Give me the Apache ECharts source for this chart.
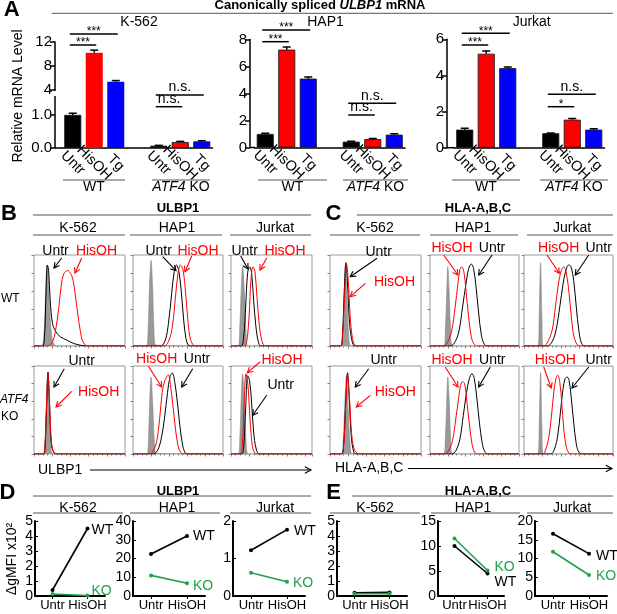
<!DOCTYPE html>
<html><head><meta charset="utf-8">
<script src="https://cdn.jsdelivr.net/npm/echarts@6/dist/echarts.min.js"></script>
<style>html,body{margin:0;padding:0;background:#fff}#c{width:617px;height:614px}</style>
</head><body><div id="c"></div>
<script>
// ---------- Panel A data ----------
const catsA = ['Untr','HisOH','Tg','','Untr','HisOH','Tg'];
const k562Vals   = [1.0, 10.2, 5.4, null, 0.07, 0.18, 0.20];
const k562Err    = [0.05, 0.45, 0.2, null, 0.01, 0.02, 0.02];
const hap1Vals   = [1.0, 7.25, 5.1, null, 0.43, 0.62, 0.95];
const hap1Err    = [0.06, 0.2, 0.12, null, 0.03, 0.04, 0.06];
const jurkatVals = [1.0, 5.2, 4.4, null, 0.8, 1.55, 1.0];
const jurkatErr  = [0.08, 0.15, 0.07, null, 0.02, 0.07, 0.05];
const k562UpperTicks = [4, 8, 12];
const k562LowerTicks = [0, 1];

// ---------- Panels B/C histogram data: [channel %, % of max] ----------
const B_WT_K562 = [
 [[8,0],[10.5,6.6],[12.2,43],[13.3,76],[14.3,89],[15.7,76],[17.5,36],[19.6,10],[22,2],[25.5,0]],
 [[9.1,0],[11.5,10],[13.3,61.5],[14.7,89],[16.1,83],[17.8,50],[20.3,25],[23.8,16],[29,10],[36,6.6],[43,3],[51.7,0.7],[58.7,0]],
 [[15,0],[20.3,4.8],[23.8,17.6],[27.3,43],[30.1,68],[32.5,79],[35,82],[37.1,83],[39.2,81],[41.3,77.7],[43.4,70],[45.5,55],[48.3,34],[51,15.8],[53.8,4.8],[58.7,0]]];
const B_WT_HAP1 = [
 [[14.8,0],[16.9,21],[18.3,65],[20.1,94],[21.8,65],[23.2,21],[25.4,1]],
 [[30.6,0],[35.9,6.6],[39.4,25],[43,58],[45.8,82],[48.2,89],[50.7,83.5],[53.5,61.5],[56.3,28.6],[58.8,8.4],[61.3,1],[64,0]],
 [[34.2,0],[39.4,4.8],[43.7,21],[47.2,54],[50,80],[52.8,89],[55.6,83.5],[58.5,58],[61.3,25],[64.1,6.6],[67.6,0.7],[71.1,0]]];
const B_WT_Jurkat = [
 [[7.9,0],[9.6,25],[11.1,65],[12.5,87],[14.3,61.5],[16.1,14],[17.9,0]],
 [[10.7,0],[13.6,10],[15.7,43],[17.9,80.6],[20,87],[22.1,80.6],[24.3,50],[26.8,21],[29.3,4.8],[32.1,0]],
 [[14.3,0],[17.1,6.6],[19.6,36],[21.4,72.5],[23.6,87],[25.7,82],[27.9,54],[30.4,23],[32.9,6.6],[35.7,0.7],[39.3,0]]];
const B_KO_K562 = [
 [[9.8,0],[11.5,5.7],[13.3,47.5],[15,91],[16.8,51],[18.5,9.5],[21,0]],
 [[10.5,0],[12.2,9.5],[14,59],[15.4,93],[17.1,55],[18.9,13],[22,1],[25.5,0]],
 [[9.8,0],[11.9,7.6],[13.6,51],[15.4,91],[17.1,59],[19.2,13],[22,2],[27,0]]];
const B_KO_HAP1 = [
 [[15.5,0],[17.3,21],[18.7,63],[20.1,87.5],[21.8,59],[23.6,17],[26.1,0.8]],
 [[21.8,0],[27.1,3.8],[31.3,17],[34.9,40],[38.4,70],[41.2,88],[43.7,92],[46.5,81],[49.3,59],[52.1,32],[54.9,11.4],[57.7,1.9],[61.3,0]],
 [[19,0],[22.5,3.8],[26.1,13],[29.6,40],[32.4,70],[35.2,83],[37.7,88],[39.4,90],[41.5,79],[44.4,55],[47.2,28.5],[50,9.5],[52.8,1.9],[56.3,0]]];
const B_KO_Jurkat = [
 [[7.9,0],[9.6,21],[11.1,66.5],[12.5,91],[14.3,63],[16.1,17],[18.6,0]],
 [[11.4,0],[13.6,7.6],[15.7,51],[17.9,89],[20,83],[22.1,59],[24.3,25],[27.1,5.7],[30.7,0]],
 [[10,0],[12.1,9.5],[13.9,51],[16.1,91],[18.2,78],[20.4,40],[22.9,9.5],[25.7,0.8],[28.6,0]]];
const C_WT_K562 = [
 [[10.9,0],[13.5,10],[15.3,50.5],[17.1,89],[18.9,50.5],[20.7,10],[23.6,0]],
 [[11.6,0],[13.8,14],[15.6,58],[17.5,91.6],[19.3,69],[21.5,25],[24.4,4.8],[27.3,0]],
 [[11.6,0],[13.8,12],[16,54],[18.2,90],[20,72.5],[22.2,32],[24.7,8.4],[28,0.7],[32.7,0]]];
const C_WT_HAP1 = [
 [[15.5,0],[17.4,21],[18.9,61.5],[20,87],[21.5,61.5],[23,21],[25.3,0]],
 [[22.6,0],[28.3,4.8],[32.8,17.6],[36.6,43],[40.4,68],[43.4,85],[46.4,90],[49,85],[51.7,65],[54.7,36],[57.7,12],[60.8,2.2],[64.2,0]],
 [[15.1,0],[20,4.8],[24.5,17.6],[28.3,43],[31.3,68],[33.6,84],[35.8,87],[38.1,81.3],[40.4,61.5],[43.4,32],[46.4,10],[49.4,2.2],[53.2,0]]];
const C_WT_Jurkat = [
 [[15,0],[16.4,32],[17.9,91.6],[19.3,32],[20.7,0]],
 [[25,0],[30.4,4.8],[34.6,17.6],[38.6,43],[42.1,68],[45,82.4],[48.2,89],[50.7,87],[53.6,72],[56.4,43],[59.3,15.8],[62.1,3],[65.7,0]],
 [[21.4,0],[25.7,4.8],[30.4,17.6],[33.9,43],[37.1,68],[40,82.4],[42.9,87],[45.7,80],[48.6,58],[51.4,28.6],[54.3,8.4],[57.9,0.7],[60.7,0]]];
const C_KO_K562 = [
 [[12,0],[14.2,9.5],[16,51],[18.2,89],[20,51],[22.2,9.5],[25,0]],
 [[12.7,0],[14.9,9.5],[17.1,55],[19.3,92.4],[21.1,63],[23.3,21],[26.2,1.9],[29.5,0]],
 [[12.7,0],[14.9,7.6],[17.1,51],[19.3,90],[21.5,63],[23.6,25],[26.5,5.7],[30.2,0.8],[34.5,0]]];
const C_KO_HAP1 = [
 [[15.5,0],[17.4,23],[18.9,63],[20,87.5],[21.5,63],[23,23],[25.3,0]],
 [[24.5,0],[29.1,3.8],[33.6,17],[37.4,43.7],[41.1,70],[44.2,85.6],[47.2,91.3],[49.8,85.6],[52.5,64.6],[55.5,36],[58.5,13.3],[61.5,2.7],[65.3,0]],
 [[16.2,0],[20.8,3.8],[25.3,15.2],[29,40],[32.1,62.7],[34.3,77.9],[36.6,82.5],[38.9,79.8],[41.1,62.7],[44.2,34.2],[47.2,11.4],[50.2,1.9],[54,0]]];
const C_KO_Jurkat = [
 [[15,0],[16.4,32],[17.9,92.4],[19.3,32],[20.7,0]],
 [[28.6,0],[32.9,5.7],[36.4,21],[39.3,47.5],[42.1,74],[44.3,85.5],[46.4,87.5],[48.6,83.7],[50.7,66.5],[53.6,36],[56.4,11.4],[59.3,1.9],[62.9,0]],
 [[20,0],[23.6,5.7],[27.1,21],[30,47.5],[32.1,70],[34.3,85],[36.4,89.7],[38.6,81.4],[40.7,58.6],[42.9,28.5],[45.7,7.6],[48.6,0.8],[51.8,0]]];

// ---------- Panels D/E data (Untr, HisOH) ----------
const catsDE = ['Untr','HisOH'];
const D_K562_WT = [0.4, 4.5],  D_K562_KO = [0.13, 0.03];
const D_HAP1_WT = [22.4, 32],  D_HAP1_KO = [11, 6.8];
const D_Jurkat_WT = [1.22, 1.77], D_Jurkat_KO = [0.62, 0.38];
const E_K562_WT = [0.22, 0.24], E_K562_KO = [0.15, 0.16];
const E_HAP1_WT = [10, 4.5],   E_HAP1_KO = [11.5, 5.1];
const E_Jurkat_WT = [16.6, 11.3], E_Jurkat_KO = [11.8, 5.6];

// ---------- build ----------
const FONT = '"Liberation Sans", Arial, sans-serif';
const GREEN = '#1fa24a';
const treatColor = {Untr:'#000', HisOH:'#ff0000', Tg:'#0000ff'};
const grids = [], xAxes = [], yAxes = [], series = [];
function addGrid(g, x, y) {
  grids.push(Object.assign({outerBoundsMode:'none', containLabel:false}, g));
  const gi = grids.length - 1;
  xAxes.push(Object.assign({gridIndex: gi}, x));
  yAxes.push(Object.assign({gridIndex: gi}, y));
  return gi;
}
const blk = {color:'#000', width:1.5};
function catAxisA(show) {
  return {type:'category', data:catsA, boundaryGap:true, show,
    axisLine:{show, lineStyle:blk}, axisTick:{show:false},
    axisLabel:{show, interval:0, rotate:-45, align:'center', verticalAlign:'middle', margin:15, fontSize:14.5, color:'#000', fontFamily:FONT}};
}
function valAxisA(o) {
  const base = {type:'value', splitLine:{show:false}, axisLine:{show:true, lineStyle:blk},
    axisTick:{show:true, length:5, lineStyle:blk},
    axisLabel:{fontSize:15, color:'#000', margin:3, fontFamily:FONT}};
  return Object.assign(base, o, {axisTick:Object.assign(base.axisTick, o.axisTick||{}), axisLabel:Object.assign(base.axisLabel, o.axisLabel||{})});
}
// bars crossing the axis break are drawn without outline so the two halves join seamlessly
function barSeries(gi, vals, breakAt) {
  return {type:'bar', xAxisIndex:gi, yAxisIndex:gi, barWidth:17, clip:true,
    itemStyle:{borderColor:'#111', borderWidth:0.8},
    data: vals.map((v,i)=> v==null ? null : {value:v, itemStyle:{color:treatColor[catsA[i]], borderWidth:(breakAt!=null && v>breakAt)?0:0.8}})};
}
function errSeries(gi, vals, errs) {
  return {type:'custom', xAxisIndex:gi, yAxisIndex:gi, clip:true, z:3,
    data: vals.map((v,i)=> v==null ? null : [i, v, errs[i]]).filter(d=>d),
    renderItem:(p, api)=>{
      const i=api.value(0), v=api.value(1), e=api.value(2);
      const t=api.coord([i, v+e]), b=api.coord([i, v]);
      const st={stroke:'#000', lineWidth:1.5};
      return {type:'group', children:[
        {type:'line', shape:{x1:t[0],y1:t[1],x2:b[0],y2:b[1]}, style:st},
        {type:'line', shape:{x1:t[0]-4,y1:t[1],x2:t[0]+4,y2:t[1]}, style:st}]};
    }};
}
const K562_BREAK = 1.6;
// K-562 (broken axis: two stacked grids)
const gK562up = addGrid({left:62, top:42, width:150.5, height:53}, catAxisA(false),
  valAxisA({min:3.2, max:12, offset:7, axisTick:{customValues:k562UpperTicks}, axisLabel:{customValues:k562UpperTicks}}));
const gK562lo = addGrid({left:62, top:95, width:150.5, height:53}, catAxisA(true),
  valAxisA({min:0, max:K562_BREAK, offset:7, axisTick:{customValues:k562LowerTicks}, axisLabel:{customValues:k562LowerTicks, formatter:v=>v.toFixed(1)}}));
const gHAP1A = addGrid({left:254.5, top:39.5, width:150.5, height:108}, catAxisA(true),
  valAxisA({min:0, max:8, interval:2, offset:4.5}));
const gJurkA = addGrid({left:454, top:39.3, width:150.5, height:108.4}, catAxisA(true),
  valAxisA({min:0, max:6, interval:2, offset:7}));
[[gK562up,k562Vals,k562Err,K562_BREAK],[gK562lo,k562Vals,k562Err,K562_BREAK],[gHAP1A,hap1Vals,hap1Err,null],[gJurkA,jurkatVals,jurkatErr,null]].forEach(([g,v,e,br])=>{
  series.push(barSeries(g,v,br)); series.push(errSeries(g,v,e));
});

// Histograms
function histGrid(left, top, width, height, xmax, curves) {
  const tk = {color:'#666', width:0.8};
  const gi = addGrid({left, top, width, height, show:true, borderColor:'#999', borderWidth:1, backgroundColor:'transparent'},
    {type:'value', min:0, max:xmax, interval:20, axisLine:{show:false}, splitLine:{show:false}, axisLabel:{show:false},
     axisTick:{show:true, length:2.5, lineStyle:tk}, minorTick:{show:true, splitNumber:4, length:1.5, lineStyle:tk}},
    {type:'value', min:0, max:100, interval:20, axisLine:{show:false}, splitLine:{show:false}, axisLabel:{show:false},
     axisTick:{show:true, length:2.5, lineStyle:tk}});
  const styles = [
    {lineStyle:{color:'#888', width:0.6}, areaStyle:{color:'#999', opacity:1}},
    {lineStyle:{color:'#000', width:1}},
    {lineStyle:{color:'#ff0000', width:1}}];
  curves.forEach((c,k)=>{
    series.push(Object.assign({type:'line', xAxisIndex:gi, yAxisIndex:gi, showSymbol:false, symbol:'none',
      smooth:0.35, clip:true, data:[[0,0], ...c, [xmax,0]]}, styles[k]));
  });
}
const rowTop = [255, 366], rowH = [91, 88];
const bBoxes = [[34,91,100],[133,90,100],[231,81,87]];
const cBoxes = [[330,91,100],[430,89,100],[524,89,96]];
[[B_WT_K562,B_WT_HAP1,B_WT_Jurkat],[B_KO_K562,B_KO_HAP1,B_KO_Jurkat]].forEach((row,r)=>row.forEach((cv,k)=>
  histGrid(bBoxes[k][0], rowTop[r], bBoxes[k][1], rowH[r], bBoxes[k][2], cv)));
[[C_WT_K562,C_WT_HAP1,C_WT_Jurkat],[C_KO_K562,C_KO_HAP1,C_KO_Jurkat]].forEach((row,r)=>row.forEach((cv,k)=>
  histGrid(cBoxes[k][0], rowTop[r], cBoxes[k][1], rowH[r], cBoxes[k][2], cv)));

// D/E line panels
function mkLine(gi, vals, color, lab) {
  return {type:'line', xAxisIndex:gi, yAxisIndex:gi, symbol:'circle', symbolSize:4, z:color===GREEN?4:3,
    lineStyle:{color, width:1.6}, itemStyle:{color},
    data: vals.map((v,i)=> (i===vals.length-1 && lab) ?
      {value:v, label:{show:true, position:'right', distance:2, offset:lab[1], formatter:lab[0], color, fontSize:14, fontFamily:FONT}} : v)};
}
function dePanel(left, width, ymax, interval, wt, ko, wtLab, koLab) {
  const gi = addGrid({left, top:521, width, height:75},
    {type:'category', data:catsDE, boundaryGap:true,
     axisLine:{lineStyle:{color:'#000', width:2}}, axisTick:{show:true, alignWithLabel:true, length:3, lineStyle:{color:'#000'}},
     axisLabel:{interval:0, fontSize:13, color:'#000', margin:3, fontFamily:FONT}},
    {type:'value', min:0, max:ymax, interval, splitLine:{show:false},
     axisLine:{show:true, lineStyle:{color:'#000', width:2}}, axisTick:{show:true, inside:true, length:3, lineStyle:{color:'#000'}},
     axisLabel:{fontSize:14, color:'#000', margin:2, fontFamily:FONT}});
  series.push(mkLine(gi, wt, '#000', wtLab));
  series.push(mkLine(gi, ko, GREEN, koLab));
}
dePanel(35, 70, 5, 1, D_K562_WT, D_K562_KO, ['WT',[0,2]], ['KO',[0,-4]]);
dePanel(133, 72, 40, 10, D_HAP1_WT, D_HAP1_KO, ['WT',[2,0]], ['KO',[2,3]]);
dePanel(233, 72, 2, 1, D_Jurkat_WT, D_Jurkat_KO, ['WT',[3,2]], ['KO',[2,1]]);
dePanel(337, 70, 5, 1, E_K562_WT, E_K562_KO, null, null);
dePanel(438, 66, 15, 5, E_HAP1_WT, E_HAP1_KO, ['WT',[3,9]], ['KO',[3,-3]]);
dePanel(535, 72, 20, 5, E_Jurkat_WT, E_Jurkat_KO, ['WT',[3,3]], ['KO',[3,1]]);

const chart = echarts.init(document.getElementById('c'), null, {renderer:'canvas'});
chart.setOption({animation:false, textStyle:{fontFamily:FONT}, grid:grids, xAxis:xAxes, yAxis:yAxes, series});

// ---------- annotations ----------
const G = [];
function T(text, x, y, o) {
  o = o || {};
  const font = (o.italic?'italic ':'') + (o.bold?'bold ':'') + (o.size||14) + 'px ' + FONT;
  G.push({type:'text', x, y, rotation:o.rot||0, z:100, style:{text, fill:o.color||'#000', font,
    align:o.align||'center', textAlign:o.align||'center', verticalAlign:o.va||'middle', textVerticalAlign:o.va||'middle', rich:o.rich}});
}
function L(x1,y1,x2,y2,color,w) { G.push({type:'line', z:100, shape:{x1,y1,x2,y2}, style:{stroke:color||'#555', lineWidth:w||1}}); }
function ARR(x1,y1,x2,y2,color,head) {
  head = head || 6;
  const a = Math.atan2(y2-y1, x2-x1);
  const h1 = [x2-head*Math.cos(a-0.5), y2-head*Math.sin(a-0.5)];
  const h2 = [x2-head*Math.cos(a+0.5), y2-head*Math.sin(a+0.5)];
  L(x1,y1,x2,y2,color,1.1);
  G.push({type:'polyline', z:100, shape:{points:[h1,[x2,y2],h2]}, style:{stroke:color, lineWidth:1.1, fill:null}});
}
const it = (s,b)=>({i:{fontStyle:'italic', fontWeight:b?'bold':'normal', fontSize:s, fontFamily:FONT}});

// Panel A
T('A', 11.7, 9.5, {bold:true, size:22});
T('Canonically spliced {i|ULBP1} mRNA', 320, 5.5, {bold:true, size:13, rich:it(13,true)});
L(51.7, 13.3, 613, 13.3);
T('K-562', 139, 22); T('HAP1', 325.5, 22); T('Jurkat', 531.7, 22);
T('Relative mRNA Level', 18.3, 96, {rot:Math.PI/2});
L(55, 148, 62.5, 148, '#000', 1.5); L(250, 147.5, 255, 147.5, '#000', 1.5); L(447, 147.7, 454.5, 147.7, '#000', 1.5);
G.push({type:'rect', z:101, shape:{x:52, y:91, width:6, height:5}, style:{fill:'#fff'}});
[[63,125,94,152,210,181],[258,327,292.5,343,408,375.5],[452,520,486,540,608,574]].forEach(g=>{
  L(g[0],180,g[1],180,'#555'); T('WT', g[2], 187.5);
  L(g[3],180,g[4],180,'#555'); T('{i|ATF4} KO', g[5], 187.5, {rich:it(14,false)});
});
const sigDefs = [
  [gK562lo,0,1,45,'***'],[gK562lo,0,2,34,'***'],[gK562lo,4,5,106.7,'n.s.'],[gK562lo,4,6,95,'n.s.'],
  [gHAP1A,0,1,41.7,'***'],[gHAP1A,0,2,30,'***'],[gHAP1A,4,5,115,'n.s.'],[gHAP1A,4,6,103.3,'n.s.'],
  [gJurkA,0,1,45,'***'],[gJurkA,0,2,33.3,'***'],[gJurkA,4,5,106.7,'*'],[gJurkA,4,6,94.3,'n.s.']];
sigDefs.forEach(([ax,a,b,y,t])=>{
  const xa = chart.convertToPixel({xAxisIndex:ax}, a) - 3;
  const xb = chart.convertToPixel({xAxisIndex:ax}, b) + 2;
  L(xa, y, xb, y, '#000', 1.5);
  if (t === 'n.s.') T(t, (xa+xb)/2, y-0.5, {va:'bottom', size:14});
  else T(t, (xa+xb)/2, y+4, {va:'bottom', size:12});
});

// Panel B / C headers
T('B', 9, 214, {bold:true, size:22});
T('ULBP1', 178, 208, {bold:true, size:13}); L(33, 215, 311, 215);
[['K-562',78,33,125],['HAP1',177,130,222],['Jurkat',275,230,311]].forEach(s=>{T(s[0], s[1], 228); L(s[2],235,s[3],235);});
T('C', 333.5, 214, {bold:true, size:22});
T('HLA-A,B,C', 478, 208, {bold:true, size:13}); L(357, 215, 613, 215);
[['K-562',375,330,420],['HAP1',473,430,518],['Jurkat',572,527,613]].forEach(s=>{T(s[0], s[1], 228); L(s[2],235,s[3],235);});
T('WT', 1, 298.3, {align:'left', size:12});
T('ATF4', 0, 400, {align:'left', size:12, italic:true});
T('KO', 1, 416.7, {align:'left', size:12});
const RED = '#ff0000';
const histTexts = [
  ['Untr','#000',55.5,251],['HisOH',RED,96.5,251],['Untr','#000',158.7,251],['HisOH',RED,198,251],['Untr','#000',244.7,251],['HisOH',RED,285,251],
  ['Untr','#000',81.7,360.7],['HisOH',RED,98.7,391.7],['HisOH',RED,156.7,359.3],['Untr','#000',197,359.3],['HisOH',RED,282,360.3],['Untr','#000',280.7,385.3],
  ['Untr','#000',378.7,251.7],['HisOH',RED,394.5,281.7],['HisOH',RED,452,248.3],['Untr','#000',492,248.3],['HisOH',RED,558.7,248.3],['Untr','#000',598.7,248.3],
  ['Untr','#000',383.7,360.3],['HisOH',RED,395.3,392],['HisOH',RED,452,360.3],['Untr','#000',492.3,360.3],['HisOH',RED,555.3,360.3],['Untr','#000',598.7,360.3]];
histTexts.forEach(h=>T(h[0], h[2], h[3], {color:h[1]}));
const histArrows = [
  [61.7,258,54,268,'#000'],[81.7,258,75,273,RED],[162.7,256.7,176,270.7,'#000'],[191.7,256,185,271.7,RED],[240.7,256,248,269,'#000'],[266.7,258,260,270,RED],
  [64.3,368.7,54,387,'#000'],[71.7,391.3,56,407,RED],[148.3,366,161.7,387,RED],[192.7,368.7,181.7,387,'#000'],[260,362,247.3,372.7,RED],[266.7,395.3,252.7,415.3,'#000'],
  [377,258.3,350.3,276.7,'#000'],[365.3,283.3,350.3,296.7,RED],[443.7,255,458,275,RED],[492,255,478.7,275,'#000'],[547,255,559.3,273.3,RED],[588.7,255,575.3,275,'#000'],
  [368.7,368.7,355.3,387,'#000'],[370.3,395.3,356.3,407,RED],[445.3,367,458,387,RED],[490.3,367,478.7,387,'#000'],[543.7,367,551.3,388,RED],[588.7,367,572,388,'#000']];
histArrows.forEach(a=>ARR(a[0],a[1],a[2],a[3],a[4]));
T('ULBP1', 38, 470, {align:'left'}); ARR(90, 470, 311, 470, '#000', 7);
T('HLA-A,B,C', 335, 468.5, {align:'left'}); ARR(408, 468.5, 612, 468.5, '#000', 7);

// Panel D / E headers
T('D', 7.5, 493, {bold:true, size:22});
T('ULBP1', 178, 491, {bold:true, size:13}); L(33, 496, 311, 496);
[['K-562',78,33,123],['HAP1',177,130,220],['Jurkat',275,230,311]].forEach(s=>{T(s[0], s[1], 507.7); L(s[2],513,s[3],513);});
T('E', 333.5, 493, {bold:true, size:22});
T('HLA-A,B,C', 478, 491, {bold:true, size:13}); L(352, 496, 613, 496);
[['K-562',375,330,420],['HAP1',473,431,520],['Jurkat',572,527,613]].forEach(s=>{T(s[0], s[1], 507.7); L(s[2],513,s[3],513);});
T('ΔgMFI x10²', 11.7, 559, {rot:Math.PI/2, size:14});

chart.setOption({graphic: G});
</script></body></html>
